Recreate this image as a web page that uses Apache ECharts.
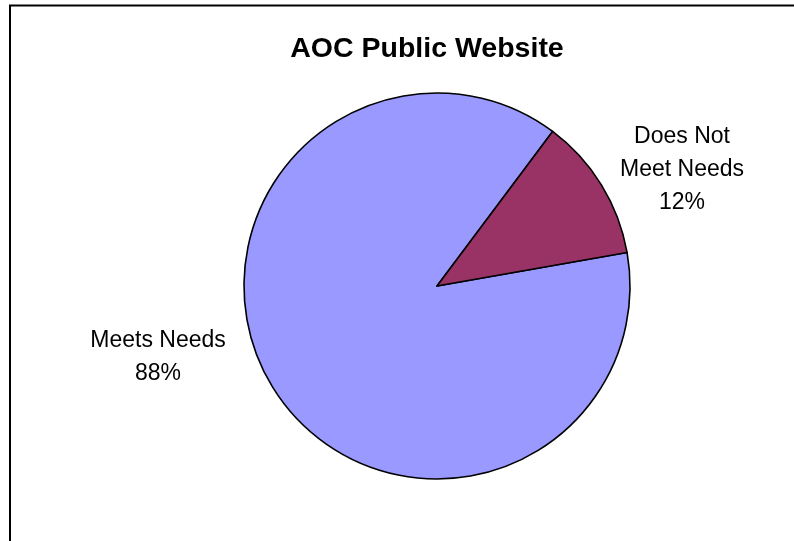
<!DOCTYPE html>
<html>
<head>
<meta charset="utf-8">
<script src="https://cdn.jsdelivr.net/npm/echarts@6/dist/echarts.min.js"></script>
<style>
  html, body { margin: 0; padding: 0; background: #fff; }
  #chart { width: 794px; height: 541px; }
</style>
</head>
<body>
<div id="chart"></div>
<script>
// Survey answers for the public website
const categories = ['Meets Needs', 'Does Not Meet Needs'];
const shares = [88, 12];
const sliceColors = ['#9999FF', '#993366'];

// Where each slice's label block sits (centre of the text block, px)
const labelSpots = [[158, 357], [682, 170]];

const chart = echarts.init(document.getElementById('chart'), null, { renderer: 'canvas' });

chart.setOption({
  animation: false,
  backgroundColor: '#ffffff',
  title: {
    text: 'AOC Public Website',
    left: 422,
    top: 30,
    textAlign: 'center',
    textStyle: {
      fontFamily: 'Liberation Sans, Arial, sans-serif',
      fontWeight: 'bold',
      fontSize: 28.5,
      color: '#000'
    }
  },
  graphic: [{
    type: 'rect',
    shape: { x: 10, y: 5.5, width: 820, height: 560 },
    style: { fill: 'none', stroke: '#000', lineWidth: 2 },
    silent: true,
    z: 100
  }],
  series: [{
    type: 'pie',
    center: [437, 286],
    radius: 193,
    startAngle: 10,
    clockwise: true,
    avoidLabelOverlap: false,
    emphasis: { disabled: true },
    itemStyle: { borderColor: '#000', borderWidth: 1.6 },
    label: {
      show: true,
      position: 'outside',
      formatter: p => p.name.replace('Not ', 'Not\n') + '\n' + p.value + '%',
      fontFamily: 'Liberation Sans, Arial, sans-serif',
      fontSize: 23,
      lineHeight: 33,
      color: '#000',
      align: 'center'
    },
    labelLine: { show: false },
    labelLayout: params => ({
      x: labelSpots[params.dataIndex][0],
      y: labelSpots[params.dataIndex][1],
      align: 'center',
      verticalAlign: 'middle'
    }),
    data: categories.map((name, i) => ({
      name: name,
      value: shares[i],
      itemStyle: { color: sliceColors[i] }
    }))
  }]
});
</script>
</body>
</html>
